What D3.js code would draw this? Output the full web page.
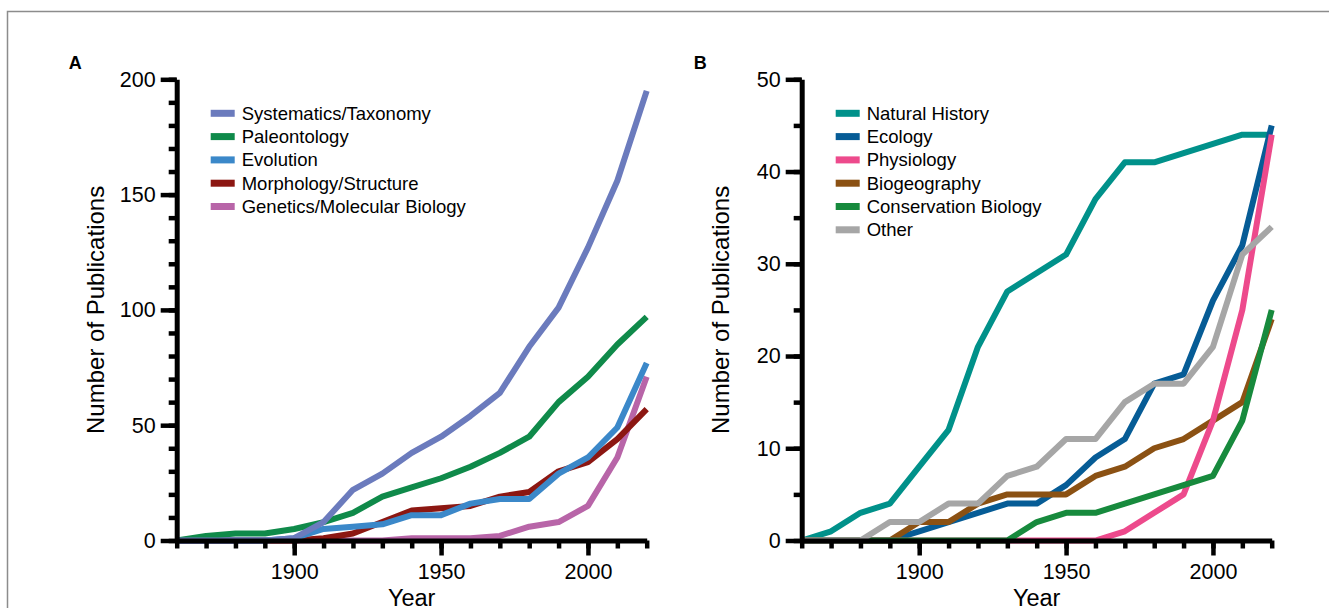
<!DOCTYPE html>
<html>
<head>
<meta charset="utf-8">
<script src="https://cdn.jsdelivr.net/npm/d3@7"></script>
<style>
  html, body { margin: 0; padding: 0; background: #fff; }
  svg { display: block; font-family: "Liberation Sans", Arial, Helvetica, sans-serif; }
</style>
</head>
<body>
<svg id="chart" width="1329" height="608"></svg>
<script>
// Decades on the x axis
const years = [1860, 1870, 1880, 1890, 1900, 1910, 1920, 1930, 1940, 1950,
               1960, 1970, 1980, 1990, 2000, 2010, 2020];
const yearTicks = [1900, 1950, 2000];

// Panel A: publications per discipline
const namesA = ["Systematics/Taxonomy", "Paleontology", "Evolution",
                "Morphology/Structure", "Genetics/Molecular Biology"];
const colorsA = ["#6b7bbd", "#0f8a4a", "#3b88c9", "#8c1712", "#b865a8"];
const systematics = [0, 0, 0, 0, 1, 8, 22, 29, 38, 45, 54, 64, 84, 101, 127, 156, 195];
const paleontology = [0, 2, 3, 3, 5, 8, 12, 19, 23, 27, 32, 38, 45, 60, 71, 85, 97];
const evolution = [0, 0, 0, 0, 1, 5, 6, 7, 11, 11, 16, 18, 18, 29, 36, 49, 77];
const morphology = [0, 0, 0, 0, 0, 1, 3, 8, 13, 14, 15, 19, 21, 30, 34, 44, 57];
const genetics = [0, 0, 0, 0, 0, 0, 0, 0, 1, 1, 1, 2, 6, 8, 15, 36, 71];
const yTicksA = [0, 50, 100, 150, 200];

// Panel B: publications per discipline
const namesB = ["Natural History", "Ecology", "Physiology",
                "Biogeography", "Conservation Biology", "Other"];
const colorsB = ["#00918a", "#065c96", "#ed4a8c", "#8b5113", "#178a3d", "#a6a6a6"];
const naturalHistory = [0, 1, 3, 4, 8, 12, 21, 27, 29, 31, 37, 41, 41, 42, 43, 44, 44];
const ecology = [0, 0, 0, 0, 1, 2, 3, 4, 4, 6, 9, 11, 17, 18, 26, 32, 45];
const physiology = [0, 0, 0, 0, 0, 0, 0, 0, 0, 0, 0, 1, 3, 5, 13, 25, 44];
const biogeography = [0, 0, 0, 0, 2, 2, 4, 5, 5, 5, 7, 8, 10, 11, 13, 15, 24];
const conservation = [0, 0, 0, 0, 0, 0, 0, 0, 2, 3, 3, 4, 5, 6, 7, 13, 25];
const other = [0, 0, 0, 2, 2, 4, 4, 7, 8, 11, 11, 15, 17, 17, 21, 31, 34];
const yTicksB = [0, 10, 20, 30, 40, 50];

const svg = d3.select("#chart");

// Outer frame
svg.append("rect")
  .attr("x", 7.5).attr("y", 11.5)
  .attr("width", 1400).attr("height", 700)
  .attr("fill", "none").attr("stroke", "#8c8c8c").attr("stroke-width", 1.5);

const plotTop = 79.3, plotBottom = 540.5, plotW = 470;

function drawPanel(opt) {
  const g = svg.append("g");
  const x = d3.scaleLinear().domain([1860, 2020]).range([opt.left, opt.left + plotW]);
  const y = d3.scaleLinear().domain([0, opt.yMax]).range([plotBottom, plotTop]);

  // lines (drawn in the given order; later ones on top)
  const line = d3.line().x((d, i) => x(years[i])).y(d => y(d));
  opt.order.forEach(k => {
    g.append("path")
      .datum(opt.series[k])
      .attr("d", line)
      .attr("fill", "none")
      .attr("stroke", opt.colors[k])
      .attr("stroke-width", 6)
      .attr("stroke-linejoin", "round")
      .attr("stroke-linecap", "butt");
  });

  // y axis: minor then major ticks
  const yMinor = d3.range(0, opt.yMax + 0.001, opt.yMinorStep);
  g.append("g").attr("transform", `translate(${opt.left},0)`)
    .call(d3.axisLeft(y).tickValues(yMinor).tickSize(8).tickSizeOuter(0).tickFormat(""))
    .call(a => a.select(".domain").remove())
    .call(a => a.selectAll("line").attr("stroke", "#000").attr("stroke-width", 4.5));
  g.append("g").attr("transform", `translate(${opt.left},0)`)
    .call(d3.axisLeft(y).tickValues(opt.yTicks).tickSize(16).tickSizeOuter(0).tickPadding(5))
    .call(a => a.select(".domain").attr("stroke", "#000").attr("stroke-width", 5))
    .call(a => a.selectAll("line").attr("stroke", "#000").attr("stroke-width", 4.5))
    .call(a => a.selectAll("text").attr("font-size", 21.5).attr("fill", "#000")
      .attr("font-family", "Liberation Sans, Arial, sans-serif"));

  // x axis
  g.append("g").attr("transform", `translate(0,${plotBottom})`)
    .call(d3.axisBottom(x).tickValues(years).tickSize(8).tickSizeOuter(0).tickFormat(""))
    .call(a => a.select(".domain").remove())
    .call(a => a.selectAll("line").attr("stroke", "#000").attr("stroke-width", 4.5));
  g.append("g").attr("transform", `translate(0,${plotBottom})`)
    .call(d3.axisBottom(x).tickValues(yearTicks).tickSize(15).tickSizeOuter(0)
      .tickPadding(8).tickFormat(d3.format("d")))
    .call(a => a.select(".domain").attr("stroke", "#000").attr("stroke-width", 5))
    .call(a => a.selectAll("line").attr("stroke", "#000").attr("stroke-width", 4.5))
    .call(a => a.selectAll("text").attr("font-size", 21.5).attr("fill", "#000")
      .attr("font-family", "Liberation Sans, Arial, sans-serif"));

  // axis titles
  g.append("text")
    .attr("x", opt.left + plotW / 2).attr("y", 606)
    .attr("text-anchor", "middle").attr("font-size", 23.5).attr("fill", "#000")
    .text("Year");
  g.append("text")
    .attr("transform", `translate(${opt.left - 73},${(plotTop + plotBottom) / 2}) rotate(-90)`)
    .attr("text-anchor", "middle").attr("font-size", 24).attr("fill", "#000")
    .text("Number of Publications");

  // panel letter
  g.append("text")
    .attr("x", opt.left - 108).attr("y", 69)
    .attr("font-size", 18).attr("font-weight", "bold").attr("fill", "#000")
    .text(opt.letter);

  // legend
  const leg = g.append("g");
  opt.names.forEach((n, i) => {
    const cy = 113.3 + i * 23.3;
    leg.append("rect")
      .attr("x", opt.left + 34).attr("y", cy - 3.5)
      .attr("width", 24).attr("height", 7)
      .attr("fill", opt.colors[i]);
    leg.append("text")
      .attr("x", opt.left + 65).attr("y", cy)
      .attr("dy", "0.35em")
      .attr("font-size", 18.5).attr("fill", "#000")
      .text(n);
  });
}

drawPanel({
  letter: "A", left: 176.7, yMax: 200, yTicks: yTicksA, yMinorStep: 10,
  names: namesA, colors: colorsA,
  series: [systematics, paleontology, evolution, morphology, genetics],
  order: [4, 3, 2, 1, 0]
});

drawPanel({
  letter: "B", left: 801.7, yMax: 50, yTicks: yTicksB, yMinorStep: 5,
  names: namesB, colors: colorsB,
  series: [naturalHistory, ecology, physiology, biogeography, conservation, other],
  order: [0, 1, 3, 2, 4, 5]
});
</script>
</body>
</html>
